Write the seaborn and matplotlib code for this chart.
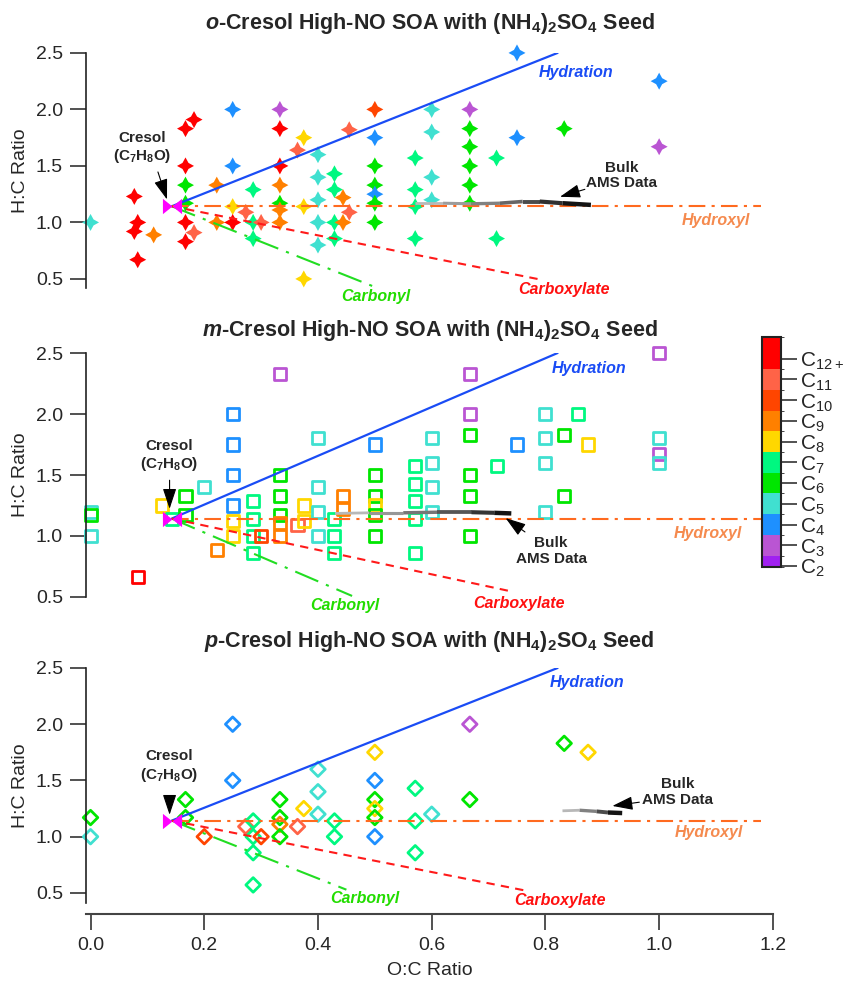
import numpy as np
import matplotlib
matplotlib.use("Agg")
import matplotlib.pyplot as plt
from matplotlib.path import Path
from matplotlib.collections import LineCollection
from matplotlib.colors import ListedColormap, BoundaryNorm
from matplotlib.cm import ScalarMappable
import pandas as pd
import seaborn as sns

sns.set_style("ticks")
plt.rcParams["font.family"] = ["Liberation Sans", "DejaVu Sans"]
plt.rcParams["mathtext.fontset"] = "custom"
plt.rcParams["mathtext.rm"] = "Liberation Sans"
plt.rcParams["mathtext.it"] = "Liberation Sans:italic:bold"
plt.rcParams["mathtext.bf"] = "Liberation Sans:bold"
plt.rcParams["mathtext.default"] = "regular"

# --- carbon number colour scale ---
carbon_numbers = [2, 3, 4, 5, 6, 7, 8, 9, 10, 11, 12]
carbon_colors = ["#A020F0", "#BA55D3", "#1E90FF", "#40E0D0", "#00E600", "#00F880",
                 "#FFD700", "#FF8000", "#FF4500", "#FF6347", "#FF0000"]
carbon_labels = ["C$_{2}$", "C$_{3}$", "C$_{4}$", "C$_{5}$", "C$_{6}$", "C$_{7}$",
                 "C$_{8}$", "C$_{9}$", "C$_{10}$", "C$_{11}$", "C$_{12+}$"]

# --- o-cresol SOA ions ---
o_oc = [0.0, 0.077, 0.083, 0.077, 0.083, 0.111, 0.167, 0.182, 0.167, 0.167, 0.167, 0.167, 0.167,
        0.182, 0.222, 0.222, 0.25, 0.25, 0.25, 0.25, 0.273, 0.286, 0.286, 0.30, 0.286, 0.333,
        0.333, 0.333, 0.333, 0.333, 0.333, 0.333, 0.364, 0.375, 0.375, 0.375, 0.4, 0.4, 0.4,
        0.4, 0.4, 0.429, 0.429, 0.429, 0.429, 0.444, 0.444, 0.455, 0.455, 0.5, 0.5, 0.5, 0.5,
        0.5, 0.5, 0.5, 0.571, 0.571, 0.571, 0.571, 0.6, 0.6, 0.6, 0.6, 0.667, 0.667, 0.667,
        0.667, 0.667, 0.667, 0.714, 0.714, 0.75, 0.75, 0.833, 1.0, 1.0]
o_hc = [1.0, 1.23, 1.0, 0.92, 0.67, 0.89, 1.83, 1.91, 1.5, 1.33, 1.17, 1.0, 0.83,
        0.91, 1.33, 1.0, 2.0, 1.5, 1.14, 1.0, 1.09, 1.29, 1.0, 1.0, 0.857, 2.0,
        1.83, 1.5, 1.33, 1.17, 1.11, 1.0, 1.64, 1.75, 1.14, 0.5, 1.6, 1.4, 1.2,
        1.0, 0.8, 1.43, 1.29, 1.0, 0.857, 1.22, 1.0, 1.82, 1.09, 2.0, 1.75, 1.5, 1.33,
        1.25, 1.17, 1.0, 1.57, 1.29, 1.14, 0.857, 2.0, 1.8, 1.4, 1.2, 2.0, 1.83, 1.67,
        1.5, 1.33, 1.17, 1.57, 0.857, 2.5, 1.75, 1.83, 2.25, 1.67]
o_cn = [5, 12, 12, 12, 12, 9, 12, 12, 12, 6, 6, 12, 12,
        11, 9, 9, 4, 4, 8, 12, 11, 7, 7, 11, 7, 3,
        12, 12, 9, 6, 9, 9, 11, 8, 8, 8, 5, 5, 5,
        5, 5, 7, 7, 7, 7, 9, 9, 11, 11, 10, 4, 6, 6,
        4, 6, 6, 7, 7, 7, 7, 5, 5, 5, 5, 3, 6, 6,
        6, 6, 6, 7, 7, 4, 4, 6, 4, 3]

# --- m-cresol SOA ions ---
m_oc = [0.0, 0.0, 0.0, 0.083, 0.125, 0.143, 0.167, 0.167, 0.2, 0.222, 0.25, 0.25, 0.25, 0.25,
        0.25, 0.25, 0.286, 0.286, 0.286, 0.286, 0.3, 0.333, 0.333, 0.333, 0.333, 0.333, 0.333,
        0.364, 0.375, 0.375, 0.4, 0.4, 0.4, 0.4, 0.429, 0.429, 0.429, 0.444, 0.444, 0.5, 0.5,
        0.5, 0.5, 0.5, 0.5, 0.571, 0.571, 0.571, 0.571, 0.571, 0.6, 0.6, 0.6, 0.6, 0.667,
        0.667, 0.667, 0.667, 0.667, 0.667, 0.714, 0.75, 0.8, 0.8, 0.8, 0.8, 0.833, 0.833,
        0.857, 0.875, 1.0, 1.0, 1.0, 1.0]
m_hc = [1.2, 1.17, 1.0, 0.667, 1.25, 1.14, 1.33, 1.17, 1.4, 0.889, 2.0, 1.75, 1.5, 1.25,
        1.125, 1.0, 1.29, 1.14, 1.0, 0.857, 1.0, 2.33, 1.5, 1.33, 1.17, 1.11, 1.0,
        1.09, 1.25, 1.125, 1.8, 1.4, 1.2, 1.0, 1.14, 1.0, 0.857, 1.33, 1.22, 1.75, 1.5,
        1.33, 1.25, 1.17, 1.0, 1.57, 1.43, 1.29, 1.14, 0.857, 1.8, 1.6, 1.4, 1.2, 2.33,
        2.0, 1.83, 1.5, 1.33, 1.0, 1.57, 1.75, 2.0, 1.8, 1.6, 1.2, 1.83, 1.33,
        2.0, 1.75, 2.5, 1.8, 1.67, 1.6]
m_cn = [5, 6, 5, 12, 8, 7, 6, 6, 5, 9, 4, 4, 4, 4,
        8, 8, 7, 7, 7, 7, 10, 3, 6, 6, 6, 9, 9,
        11, 8, 8, 5, 5, 5, 5, 7, 7, 7, 9, 9, 4, 6,
        6, 8, 6, 6, 7, 7, 7, 7, 7, 5, 5, 5, 5, 3,
        3, 6, 6, 6, 6, 7, 4, 5, 5, 5, 5, 6, 6,
        7, 8, 3, 5, 3, 5]

# --- p-cresol SOA ions ---
p_oc = [0.0, 0.0, 0.167, 0.167, 0.2, 0.25, 0.25, 0.273, 0.286, 0.286, 0.286, 0.286, 0.3, 0.333,
        0.333, 0.333, 0.333, 0.364, 0.375, 0.4, 0.4, 0.4, 0.429, 0.429, 0.5, 0.5, 0.5, 0.5,
        0.5, 0.5, 0.571, 0.571, 0.571, 0.6, 0.667, 0.667, 0.833, 0.875]
p_hc = [1.17, 1.0, 1.33, 1.17, 1.0, 2.0, 1.5, 1.09, 1.14, 1.0, 0.857, 0.571, 1.0, 1.33,
        1.17, 1.11, 1.0, 1.09, 1.25, 1.6, 1.4, 1.2, 1.14, 1.0, 1.75, 1.5, 1.33, 1.25,
        1.17, 1.0, 1.43, 1.14, 0.857, 1.2, 2.0, 1.33, 1.83, 1.75]
p_cn = [6, 5, 6, 6, 10, 4, 4, 11, 7, 7, 7, 7, 10, 6,
        6, 9, 6, 11, 8, 5, 5, 5, 7, 7, 8, 4, 6, 8,
        6, 4, 7, 7, 7, 5, 3, 6, 6, 8]

# --- bulk AMS elemental ratios (grey -> black with time) ---
o_bulk_oc = [0.57, 0.62, 0.67, 0.72, 0.76, 0.79, 0.83, 0.88]
o_bulk_hc = [1.17, 1.17, 1.165, 1.17, 1.185, 1.185, 1.17, 1.155]
m_bulk_oc = [0.43, 0.49, 0.55, 0.61, 0.67, 0.71, 0.74]
m_bulk_hc = [1.185, 1.19, 1.19, 1.195, 1.195, 1.19, 1.185]
p_bulk_oc = [0.83, 0.86, 0.89, 0.91, 0.935]
p_bulk_hc = [1.23, 1.235, 1.225, 1.215, 1.21]

# parent compound and functionalisation slopes
cresol_oc, cresol_hc = 1 / 7, 8 / 7
slope_hydration, slope_hydroxyl, slope_carbonyl, slope_carboxylate = 2.0, 0.0, -2.0, -1.0

panels = [
    dict(prefix="o", oc=o_oc, hc=o_hc, cn=o_cn, bulk=(o_bulk_oc, o_bulk_hc),
         ylow=0.42, carbonyl_end=0.50, carbox_end=0.795,
         cresol_txt=(0.091, 1.66), cresol_arrow=((0.117, 1.47), (0.136, 1.18)),
         bulk_txt=(0.934, 1.415), bulk_arrow=((0.874, 1.30), (0.821, 1.22)),
         hydration=(0.854, 2.33), hydroxyl=(1.10, 1.02), carbonyl=(0.501, 0.345),
         carboxylate=(0.833, 0.41)),
    dict(prefix="m", oc=m_oc, hc=m_hc, cn=m_cn, bulk=(m_bulk_oc, m_bulk_hc),
         ylow=0.5, carbonyl_end=0.46, carbox_end=0.742,
         cresol_txt=(0.138, 1.655), cresol_arrow=((0.139, 1.48), (0.139, 1.20)),
         bulk_txt=(0.81, 0.875), bulk_arrow=((0.768, 1.02), (0.726, 1.16)),
         hydration=(0.877, 2.37), hydroxyl=(1.085, 1.02), carbonyl=(0.448, 0.43),
         carboxylate=(0.753, 0.45)),
    dict(prefix="p", oc=p_oc, hc=p_hc, cn=p_cn, bulk=(p_bulk_oc, p_bulk_hc),
         ylow=0.41, carbonyl_end=0.45, carbox_end=0.765,
         cresol_txt=(0.138, 1.625), cresol_arrow=((0.139, 1.36), (0.139, 1.17)),
         bulk_txt=(1.032, 1.395), bulk_arrow=((0.97, 1.31), (0.913, 1.27)),
         hydration=(0.873, 2.37), hydroxyl=(1.088, 1.04), carbonyl=(0.483, 0.45),
         carboxylate=(0.826, 0.43)),
]

palette = dict(zip(carbon_numbers, carbon_colors))

star = Path.unit_regular_star(4, 0.5)
bowtie = Path([(-1, -0.8), (0, 0), (-1, 0.8), (-1, -0.8), (1, -0.8), (0, 0), (1, 0.8), (1, -0.8)],
              [Path.MOVETO, Path.LINETO, Path.LINETO, Path.CLOSEPOLY,
               Path.MOVETO, Path.LINETO, Path.LINETO, Path.CLOSEPOLY])

fig = plt.figure(figsize=(8.48, 9.93), dpi=100)
axes_rect = [[0.1014, 0.710, 0.810, 0.2367],
             [0.1014, 0.3988, 0.810, 0.2457],
             [0.1014, 0.0906, 0.810, 0.2367]]
title_y = [0.976, 0.667, 0.354]
arrow_props = dict(arrowstyle="-|>,head_length=0.9,head_width=0.3", color="black",
                   lw=0.8, mutation_scale=14)

for i, p in enumerate(panels):
    ax = fig.add_axes(axes_rect[i])
    df = pd.DataFrame({"oc": p["oc"], "hc": p["hc"], "cn": p["cn"]})

    if i == 0:
        sns.scatterplot(data=df, x="oc", y="hc", hue="cn", palette=palette, marker=star,
                        s=150, linewidth=0, legend=False, ax=ax, zorder=2, clip_on=False)
    else:
        mk = "s" if i == 1 else "D"
        sz = 75 if i == 1 else 55
        sns.scatterplot(data=df, x="oc", y="hc", hue="cn", palette=palette, marker=mk,
                        s=sz, legend=False, ax=ax, zorder=2, clip_on=False)
        coll = ax.collections[-1]
        cols = coll.get_facecolors()
        coll.set_edgecolors(cols)
        coll.set_facecolors("none")
        coll.set_linewidths(2.0)

    # functionalisation reference lines
    x_hyd = [cresol_oc, cresol_oc + (2.5 - cresol_hc) / slope_hydration]
    ax.plot(x_hyd, [cresol_hc + slope_hydration * (x - cresol_oc) for x in x_hyd],
            color="#1A4CF5", lw=1.6, zorder=3)
    x_oh = [cresol_oc, 1.18]
    ax.plot(x_oh, [cresol_hc + slope_hydroxyl * (x - cresol_oc) for x in x_oh],
            color="#FF6A1F", lw=1.5, dashes=(8, 3, 1.5, 3), zorder=3)
    x_cb = [cresol_oc, p["carbonyl_end"]]
    ax.plot(x_cb, [cresol_hc + slope_carbonyl * (x - cresol_oc) for x in x_cb],
            color="#22DD22", lw=1.5, dashes=(12, 4, 1.5, 4), zorder=3)
    x_cx = [cresol_oc, p["carbox_end"]]
    ax.plot(x_cx, [cresol_hc + slope_carboxylate * (x - cresol_oc) for x in x_cx],
            color="#FF1A1A", lw=1.5, dashes=(4, 3), zorder=3)

    # bulk AMS trace
    bx, by = p["bulk"]
    pts = np.column_stack([bx, by])
    segs = np.stack([pts[:-1], pts[1:]], axis=1)
    shade = np.linspace(0.72, 0.08, len(segs))
    lc = LineCollection(segs, colors=[(g, g, g) for g in shade],
                        linewidths=np.linspace(2.0, 3.2, len(segs)), capstyle="butt", zorder=4)
    ax.add_collection(lc)

    # parent compound
    sns.scatterplot(x=[cresol_oc], y=[cresol_hc], marker=bowtie, color="#FF00FF", s=190,
                    linewidth=0, legend=False, ax=ax, zorder=6)

    # labels
    ax.text(*p["cresol_txt"], "Cresol\n(C$_7$H$_8$O)", ha="center", va="center",
            fontsize=11, fontweight="bold", linespacing=1.2)
    ax.annotate("", xy=p["cresol_arrow"][1], xytext=p["cresol_arrow"][0],
                arrowprops=arrow_props, zorder=7)
    ax.text(*p["bulk_txt"], "Bulk\nAMS Data", ha="center", va="center",
            fontsize=11, fontweight="bold", linespacing=1.15)
    ax.annotate("", xy=p["bulk_arrow"][1], xytext=p["bulk_arrow"][0],
                arrowprops=arrow_props, zorder=7)
    ax.text(*p["hydration"], "Hydration", color="#1A4CF5", fontsize=11.5, fontweight="bold",
            style="italic", ha="center", va="center")
    ax.text(*p["hydroxyl"], "Hydroxyl", color="#F58A4E", fontsize=11.5, fontweight="bold",
            style="italic", ha="center", va="center")
    ax.text(*p["carbonyl"], "Carbonyl", color="#22DD00", fontsize=11.5, fontweight="bold",
            style="italic", ha="center", va="center")
    ax.text(*p["carboxylate"], "Carboxylate", color="#FF1010", fontsize=11.5, fontweight="bold",
            style="italic", ha="center", va="center")

    # axes styling
    ax.set_xlim(-0.008, 1.2)
    ax.set_ylim(p["ylow"], 2.5)
    ax.set_yticks([0.5, 1.0, 1.5, 2.0, 2.5])
    ax.set_yticklabels(["0.5", "1.0", "1.5", "2.0", "2.5"])
    ax.set_ylabel("H:C Ratio", fontsize=14, labelpad=5)
    ax.tick_params(axis="y", direction="out", length=11.5, width=1.1, labelsize=14, pad=5,
                   color="#222222")
    ax.spines["top"].set_visible(False)
    ax.spines["right"].set_visible(False)
    ax.spines["left"].set_linewidth(1.2)
    ax.spines["left"].set_color("#222222")
    ax.set_facecolor("none")
    if i < 2:
        ax.spines["bottom"].set_visible(False)
        ax.set_xticks([])
        ax.set_xlabel("")
    else:
        ax.spines["bottom"].set_position(("outward", 8))
        ax.spines["bottom"].set_linewidth(1.5)
        ax.spines["bottom"].set_color("#444444")
        ax.set_xticks([0.0, 0.2, 0.4, 0.6, 0.8, 1.0, 1.2])
        ax.set_xticklabels(["0.0", "0.2", "0.4", "0.6", "0.8", "1.0", "1.2"])
        ax.tick_params(axis="x", direction="out", length=11.5, width=1.1, labelsize=14, pad=5,
                       color="#222222")
        ax.set_xlabel("O:C Ratio", fontsize=14, labelpad=6)

    fig.text(0.5065, title_y[i],
             r"$\it{" + p["prefix"] + r"}$-Cresol High-NO SOA with (NH$_4$)$_2$SO$_4$ Seed",
             ha="center", va="center", fontsize=15.5, fontweight="bold")

# carbon number colour bar
cax = fig.add_axes([0.8986, 0.429, 0.0224, 0.2316])
bounds = [1.95, 2.5, 3.5, 4.5, 5.5, 6.5, 7.5, 8.5, 9.5, 10.5, 11.5, 13.05]
sm = ScalarMappable(norm=BoundaryNorm(bounds, len(carbon_colors)), cmap=ListedColormap(carbon_colors))
cb = fig.colorbar(sm, cax=cax, ticks=carbon_numbers, spacing="proportional")
cb.set_ticklabels(carbon_labels)
cb.outline.set_linewidth(1.5)
cb.outline.set_edgecolor("#222222")
cax.tick_params(length=11.5, width=1.1, labelsize=15, pad=2, color="#222222")

fig.savefig("out.png", dpi=100)
